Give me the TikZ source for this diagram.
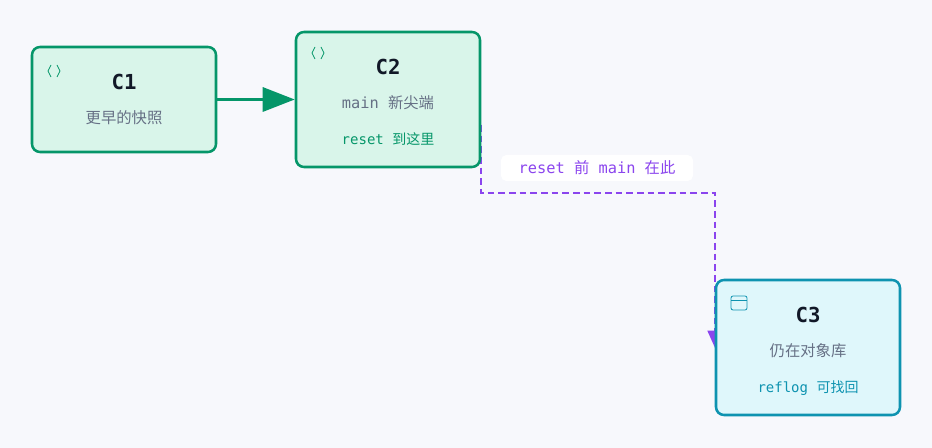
\documentclass[tikz,border=0pt]{standalone}
\usepackage{fontspec}
\setmainfont{Noto Sans CJK SC}
\newfontfamily\cjk{Noto Sans CJK SC}
\newfontfamily\codefont{DejaVu Sans Mono}
\usetikzlibrary{positioning,arrows.meta}
\definecolor{bgpage}{HTML}{F7F8FC}
\definecolor{greenline}{HTML}{059669}
\definecolor{greenfill}{HTML}{D9F5EA}
\definecolor{cyanline}{HTML}{0E93B0}
\definecolor{cyanfill}{HTML}{DFF7FB}
\definecolor{purpline}{HTML}{8B45EE}
\definecolor{greytext}{HTML}{667085}
\definecolor{titletext}{HTML}{111827}
\tikzset{
  commit/.style={draw=greenline, fill=greenfill, line width=1.9pt, rounded corners=6pt, minimum width=138pt, minimum height=78.75pt, inner sep=0pt},
  safe/.style={commit, draw=cyanline, fill=cyanfill, minimum height=101.25pt},
  title/.style={font=\codefont\bfseries\fontsize{15.5}{18}\selectfont, text=titletext},
  sub/.style={font=\cjk\fontsize{11.5}{14}\selectfont, text=greytext},
  code/.style={font=\codefont\fontsize{10.5}{13}\selectfont},
  iconline/.style={line width=0.6pt}
}
\begin{document}
\begin{tikzpicture}[x=0.75pt,y=-0.75pt]
    \fill [bgpage] (0,0) rectangle (932,448);
    \useasboundingbox (0,0) rectangle (932,448);
    % lost branch tip, drawn under the boxes
    \coordinate (from) at (481,125);
    \coordinate (to) at (715,348);
    \draw [purpline, line width=1.9pt, dash pattern=on 5pt off 3pt, -{Triangle[length=13pt,width=11pt]}] (from) -- (481,193) -- (715,193) -- (to);
    \node [fill=white, rounded corners=4pt, minimum width=144pt, minimum height=19.5pt, font=\codefont\fontsize{11.5}{13}\selectfont, text=purpline] (lbl) at (597,168) {reset {\cjk 前} main {\cjk 在此}};
    % commits
    \node [commit] (c1) at (124,99.5) {};
    \node [commit, minimum height=101.25pt] (c2) at (388,99.5) {};
    \node [safe] (c3) at (808,347.5) {};
    \node [title] (t1) at (124,82) {C1};
    \node [sub] (s1) at (124,118) {更早的快照};
    \node [title] (t2) at (388,67) {C2};
    \node [sub] (s2) at (388,103) {\codefont main \cjk 新尖端};
    \node [code, text=greenline] (r2) at (388,139) {reset {\cjk 到这里}};
    \node [title] (t3) at (808,315) {C3};
    \node [sub] (s3) at (808,351) {仍在对象库};
    \node [code, text=cyanline] (r3) at (808,388) {reflog {\cjk 可找回}};
    % icons
    \foreach \x/\y in {48/65, 312/47} {
      \draw [greenline, iconline] (\x+3,\y) -- (\x,\y+6) -- (\x+3,\y+12);
      \draw [greenline, iconline] (\x+9,\y) -- (\x+12,\y+6) -- (\x+9,\y+12);
    }
    \draw [cyanline, iconline, rounded corners=1.5pt] (731,296) rectangle (747,310);
    \draw [cyanline, iconline] (731,300) -- (747,300);
    \draw [greenline, line width=2.4pt, -{Triangle[length=24pt,width=18pt]}] (c1) -- (c2);
\end{tikzpicture}
\end{document}
